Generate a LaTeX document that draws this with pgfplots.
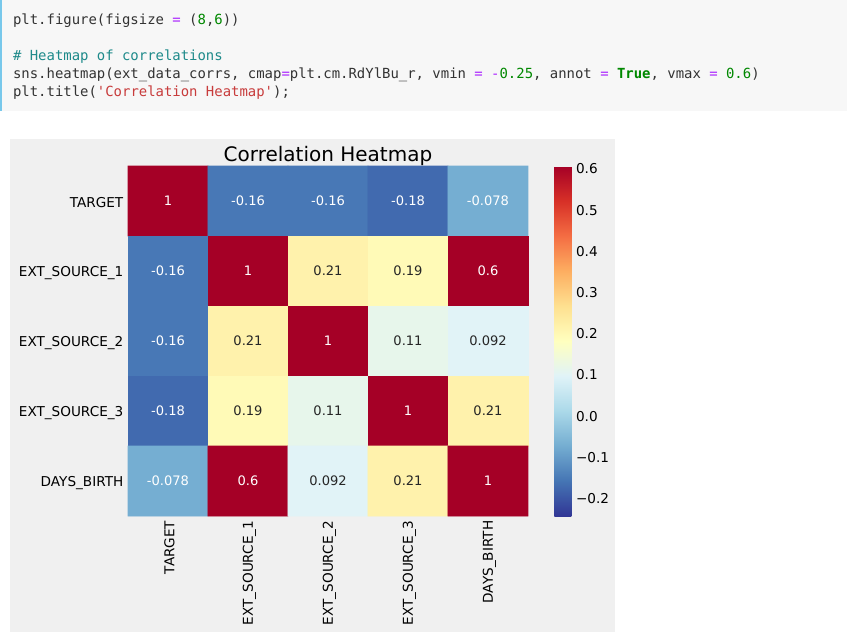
\documentclass[border=0pt]{standalone}
\usepackage{fontspec}
\setmainfont{DejaVu Sans}
\setmonofont{DejaVu Sans Mono}
\usepackage{pgfplots}
\pgfplotsset{compat=1.18}

\definecolor{cellbg}{RGB}{247,247,247}
\definecolor{cellbar}{RGB}{120,200,235}
\definecolor{figbg}{RGB}{240,240,240}
\definecolor{cdark}{RGB}{51,51,51}
\definecolor{cop}{RGB}{170,34,255}
\definecolor{cnum}{RGB}{0,136,0}
\definecolor{ccom}{RGB}{30,138,138}
\definecolor{cstr}{RGB}{200,60,60}
\newcommand{\Op}[1]{\textcolor{cop}{#1}}
\newcommand{\Nm}[1]{\textcolor{cnum}{#1}}

% correlation matrix, row by row (x = column, y = row)
\pgfplotstableread{
x y c
0 0 1
1 0 -0.16
2 0 -0.16
3 0 -0.18
4 0 -0.078
0 1 -0.16
1 1 1
2 1 0.21
3 1 0.19
4 1 0.6
0 2 -0.16
1 2 0.21
2 2 1
3 2 0.11
4 2 0.092
0 3 -0.18
1 3 0.19
2 3 0.11
3 3 1
4 3 0.21
0 4 -0.078
1 4 0.6
2 4 0.092
3 4 0.21
4 4 1
}\corrs

\pgfplotstableread{
x y l
0 0 1
1 0 -0.16
2 0 -0.16
3 0 -0.18
4 0 -0.078
0 1 -0.16
1 1 1
4 1 0.6
0 2 -0.16
2 2 1
0 3 -0.18
3 3 1
0 4 -0.078
1 4 0.6
4 4 1
}\whitelabels

\pgfplotstableread{
x y l
2 1 0.21
3 1 0.19
1 2 0.21
3 2 0.11
4 2 0.092
1 3 0.19
2 3 0.11
4 3 0.21
2 4 0.092
3 4 0.21
}\blacklabels

\begin{document}
\begin{tikzpicture}
% page = 847 x 632 px, 1 px = 0.75 pt
\useasboundingbox (0,0) rectangle (635.25pt,-474pt);
\fill[white] (0,0) rectangle (635.25pt,-474pt);
\fill[cellbg] (0,0) rectangle (635.25pt,-83.25pt);
\fill[cellbar] (0,0) rectangle (1.5pt,-83.25pt);
\fill[figbg] (7.5pt,-104.25pt) rectangle (461.25pt,-474pt);

\begin{scope}[every node/.style={anchor=base west, inner sep=0pt,
    font=\ttfamily\fontsize{10.45pt}{12pt}\selectfont, text=cdark}]
\node at (9.6pt,-18pt) {plt.figure(figsize \Op{=} (\Nm{8},\Nm{6}))};
\node at (9.6pt,-45pt) {\textcolor{ccom}{\# Heatmap of correlations}};
\node at (9.6pt,-58.5pt) {sns.heatmap(ext\_data\_corrs, cmap\Op{=}plt.cm.RdYlBu\_r, vmin \Op{=} \Op{-}\Nm{0.25}, annot \Op{=} \textcolor{cnum}{\bfseries True}, vmax \Op{=} \Nm{0.6})};
\node at (9.6pt,-72pt) {plt.title(\textcolor{cstr}{'Correlation Heatmap'});};
\end{scope}

\begin{axis}[
    at={(96pt,-124.5pt)}, anchor=north west,
    scale only axis, width=300pt, height=262.5pt,
    xmin=-0.5, xmax=4.5, ymin=-0.5, ymax=4.5,
    y dir=reverse, enlargelimits=false, clip=false,
    axis line style={draw=none}, major tick length=0pt,
    xtick={0,...,4}, ytick={0,...,4},
    xticklabels={TARGET,EXT\_SOURCE\_1,EXT\_SOURCE\_2,EXT\_SOURCE\_3,DAYS\_BIRTH},
    yticklabels={TARGET,EXT\_SOURCE\_1,EXT\_SOURCE\_2,EXT\_SOURCE\_3,DAYS\_BIRTH},
    tick label style={font=\fontsize{10.2pt}{12pt}\selectfont, text=black},
    x tick label style={rotate=90, anchor=east, yshift=-1pt},
    y tick label style={yshift=-1.5pt},
    title={Correlation Heatmap},
    title style={at={(0.5,1)}, anchor=base, yshift=-2.25pt,
        font=\fontsize{15pt}{18pt}\selectfont},
    colormap={rdylbur}{rgb255=(49,54,149) rgb255=(69,117,180) rgb255=(116,173,209)
        rgb255=(171,217,233) rgb255=(224,243,248) rgb255=(255,255,191)
        rgb255=(254,224,144) rgb255=(253,174,97) rgb255=(244,109,67)
        rgb255=(215,48,39) rgb255=(165,0,38)},
    point meta min=-0.25, point meta max=0.6,
    colorbar,
    colorbar style={
        at={(parent axis.north east)}, anchor=north west, xshift=11.25pt,
        scale only axis, width=12.75pt, height=262.5pt,
        axis line style={draw=none}, major tick length=0pt,
        ytick={-0.2,-0.1,0,0.1,0.2,0.3,0.4,0.5,0.6},
        yticklabels={−0.2,−0.1,0.0,0.1,0.2,0.3,0.4,0.5,0.6},
        yticklabel style={font=\fontsize{10.2pt}{12pt}\selectfont, yshift=-2.25pt},
    },
]
\addplot[matrix plot*, mesh/cols=5, point meta=explicit] table[x=x, y=y, meta=c] {\corrs};
\addplot[only marks, mark=*, mark size=0pt, mark options={draw=none, fill=none},
    point meta=explicit symbolic, nodes near coords,
    every node near coord/.append style={anchor=center, text=white,
        font=\fontsize{9.8pt}{12pt}\selectfont}]
    table[x=x, y=y, meta=l] {\whitelabels};
\addplot[only marks, mark=*, mark size=0pt, mark options={draw=none, fill=none},
    point meta=explicit symbolic, nodes near coords,
    every node near coord/.append style={anchor=center, text=black!85,
        font=\fontsize{9.8pt}{12pt}\selectfont}]
    table[x=x, y=y, meta=l] {\blacklabels};
\end{axis}
\end{tikzpicture}
\end{document}
